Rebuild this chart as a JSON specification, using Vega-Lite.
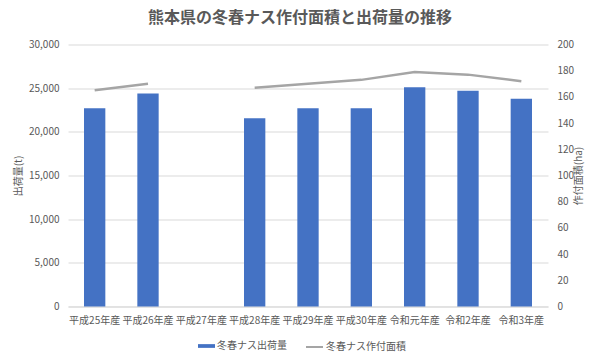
{
  "$schema": "https://vega.github.io/schema/vega-lite/v6.json",
  "width": 480,
  "height": 262,
  "autosize": {"type": "none"},
  "padding": {"left": 68, "top": 44.5, "right": 54, "bottom": 53.5},
  "background": "white",
  "title": {
    "text": "熊本県の冬春ナス作付面積と出荷量の推移",
    "fontSize": 16,
    "fontWeight": "bold",
    "color": "#595959",
    "font": "Noto Sans CJK JP",
    "anchor": "middle",
    "offset": 14,
    "dx": -8
  },
  "config": {
    "view": {"stroke": null},
    "font": "Noto Sans CJK JP",
    "axis": {
      "labelFont": "Noto Sans CJK JP",
      "labelFontSize": 10,
      "labelColor": "#595959",
      "titleFont": "Noto Sans CJK JP",
      "titleFontSize": 10,
      "titleColor": "#595959",
      "titleFontWeight": "normal",
      "ticks": false
    },
    "legend": {
      "labelFont": "Noto Sans CJK JP",
      "labelFontSize": 10,
      "labelColor": "#595959"
    }
  },
  "data": {
    "values": [
      {"年度": "平成25年産", "出荷量": 22700, "作付面積": 165},
      {"年度": "平成26年産", "出荷量": 24400, "作付面積": 170},
      {"年度": "平成27年産", "出荷量": null, "作付面積": null},
      {"年度": "平成28年産", "出荷量": 21550, "作付面積": 167},
      {"年度": "平成29年産", "出荷量": 22700, "作付面積": 170},
      {"年度": "平成30年産", "出荷量": 22700, "作付面積": 173},
      {"年度": "令和元年産", "出荷量": 25100, "作付面積": 179},
      {"年度": "令和2年産", "出荷量": 24700, "作付面積": 177},
      {"年度": "令和3年産", "出荷量": 23800, "作付面積": 172}
    ]
  },
  "encoding": {
    "x": {
      "field": "年度",
      "type": "nominal",
      "sort": ["平成25年産", "平成26年産", "平成27年産", "平成28年産", "平成29年産", "平成30年産", "令和元年産", "令和2年産", "令和3年産"],
      "scale": {
        "domain": ["平成25年産", "平成26年産", "平成27年産", "平成28年産", "平成29年産", "平成30年産", "令和元年産", "令和2年産", "令和3年産"],
        "paddingInner": 0.6,
        "paddingOuter": 0.3
      },
      "axis": {
        "title": null,
        "labelAngle": 0,
        "labelPadding": 9,
        "domainColor": "#d9d9d9",
        "grid": false
      }
    }
  },
  "layer": [
    {
      "mark": {"type": "bar"},
      "encoding": {
        "y": {
          "field": "出荷量",
          "type": "quantitative",
          "scale": {"domain": [0, 30000]},
          "axis": {
            "title": "出荷量(t)",
            "values": [0, 5000, 10000, 15000, 20000, 25000, 30000],
            "format": ",d",
            "grid": true,
            "gridColor": "#d9d9d9",
            "domain": false,
            "labelPadding": 9,
            "titlePadding": 5
          }
        },
        "color": {
          "datum": "冬春ナス出荷量",
          "scale": {"range": ["#4472C4"]},
          "legend": {
            "title": null,
            "orient": "none",
            "legendX": 130,
            "legendY": 293,
            "symbolType": "M-1,-0.22H1V0.22H-1Z",
            "symbolSize": 289,
            "symbolStrokeWidth": 0,
            "labelOffset": 2,
            "padding": 0
          }
        }
      }
    },
    {
      "mark": {"type": "line", "strokeWidth": 2.5, "invalid": "break-paths-show-domains"},
      "encoding": {
        "y": {
          "field": "作付面積",
          "type": "quantitative",
          "scale": {"domain": [0, 200]},
          "axis": {
            "orient": "right",
            "title": "作付面積(ha)",
            "titleAngle": 270,
            "values": [0, 20, 40, 60, 80, 100, 120, 140, 160, 180, 200],
            "grid": false,
            "domain": false,
            "labelPadding": 9,
            "titlePadding": 10
          }
        },
        "color": {
          "datum": "冬春ナス作付面積",
          "scale": {"range": ["#A5A5A5"]},
          "legend": {
            "title": null,
            "orient": "none",
            "legendX": 237,
            "legendY": 293,
            "symbolType": "stroke",
            "symbolSize": 289,
            "symbolStrokeWidth": 2,
            "labelOffset": 2,
            "padding": 0
          }
        }
      }
    }
  ],
  "resolve": {"scale": {"y": "independent", "color": "independent"}}
}
